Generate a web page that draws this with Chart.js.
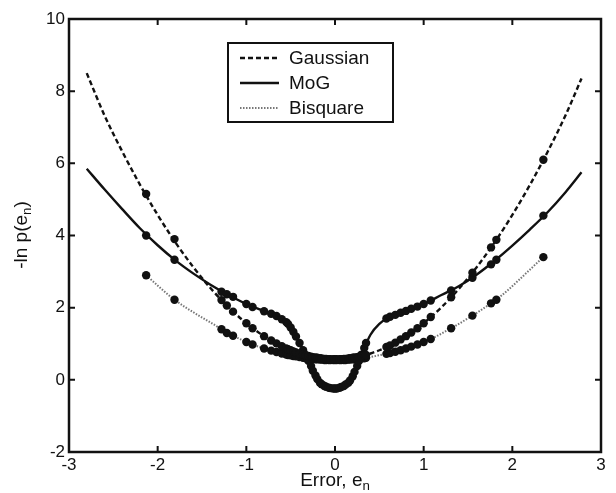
<!DOCTYPE html>
<html>
<head>
<meta charset="utf-8">
<script src="https://cdn.jsdelivr.net/npm/chart.js@4.4.1/dist/chart.umd.min.js"></script>
<style>
  html, body { margin: 0; padding: 0; background: #fff; }
  #wrap { width: 616px; height: 493px; }
</style>
</head>
<body>
<div id="wrap"><canvas id="c" width="616" height="493"></canvas></div>
<script>
// Negative log-likelihood of the error under three noise models.

// smooth curves (Gaussian + MoG)
const xCurve = [-2.8, -2.6, -2.4, -2.2, -2.0, -1.8, -1.6, -1.4, -1.2, -1.0, -0.8, -0.6, -0.5, -0.4, -0.3, -0.2, -0.1, 0,
  0.1, 0.2, 0.3, 0.4, 0.5, 0.6, 0.8, 1.0, 1.2, 1.4, 1.6, 1.8, 2.0, 2.2, 2.4, 2.6, 2.78];
const gaussCurve = [8.5, 7.33, 6.33, 5.41, 4.57, 3.81, 3.13, 2.53, 2.01, 1.57, 1.21, 0.93, 0.82, 0.73, 0.66, 0.61, 0.58, 0.57,
  0.58, 0.61, 0.66, 0.73, 0.82, 0.93, 1.21, 1.57, 2.01, 2.53, 3.13, 3.81, 4.57, 5.41, 6.33, 7.33, 8.35];
const mogCurve = [5.85, 5.28, 4.73, 4.2, 3.73, 3.31, 2.95, 2.63, 2.35, 2.1, 1.9, 1.68, 1.45, 1.02, 0.53, 0.02, -0.19, -0.24,
  -0.17, 0.1, 0.7, 1.25, 1.55, 1.72, 1.91, 2.1, 2.35, 2.6, 2.92, 3.3, 3.72, 4.17, 4.65, 5.2, 5.75];

// sample errors (the dots) and each model's value at them
const xSample = [-2.13, -1.81, -1.28, -1.22, -1.15, -1.0, -0.93, -0.8, -0.72, -0.66, -0.6, -0.55, -0.53, -0.5, -0.47, -0.44, -0.4,
  -0.36, -0.33, -0.3, -0.27, -0.25, -0.22, -0.2, -0.17, -0.15, -0.12, -0.1, -0.07, -0.05, -0.02, 0, 0.02, 0.05, 0.07, 0.1,
  0.12, 0.15, 0.17, 0.2, 0.22, 0.25, 0.27, 0.3, 0.33, 0.35,
  0.58, 0.62, 0.68, 0.74, 0.8, 0.86, 0.93, 1.0, 1.08, 1.31, 1.55, 1.76, 1.82, 2.35];
const gaussPts = [5.15, 3.9, 2.21, 2.06, 1.89, 1.57, 1.43, 1.21, 1.09, 1.01, 0.93, 0.87, 0.85, 0.82, 0.79, 0.76, 0.73,
  0.7, 0.68, 0.66, 0.64, 0.63, 0.62, 0.61, 0.6, 0.59, 0.58, 0.58, 0.57, 0.57, 0.57, 0.57, 0.57, 0.57, 0.57, 0.58,
  0.58, 0.59, 0.6, 0.61, 0.62, 0.63, 0.64, 0.66, 0.68, 0.69,
  0.91, 0.95, 1.03, 1.12, 1.21, 1.31, 1.43, 1.57, 1.74, 2.29, 2.97, 3.67, 3.88, 6.1];
const mogPts = [4.0, 3.33, 2.44, 2.37, 2.3, 2.1, 2.02, 1.9, 1.83, 1.77, 1.68, 1.6, 1.55, 1.45, 1.33, 1.2, 1.02,
  0.82, 0.68, 0.53, 0.38, 0.25, 0.12, 0.02, -0.08, -0.12, -0.17, -0.19, -0.22, -0.23, -0.24, -0.24, -0.24, -0.22, -0.2, -0.17,
  -0.13, -0.08, -0.02, 0.1, 0.22, 0.38, 0.52, 0.7, 0.88, 1.02,
  1.7, 1.75, 1.8, 1.86, 1.91, 1.97, 2.03, 2.1, 2.2, 2.48, 2.83, 3.2, 3.33, 4.55];
const bisqPts = [2.9, 2.22, 1.4, 1.3, 1.22, 1.05, 0.98, 0.87, 0.81, 0.77, 0.73, 0.7, 0.69, 0.68, 0.66, 0.65, 0.63,
  0.61, 0.6, 0.6, 0.59, 0.58, 0.57, 0.57, 0.56, 0.56, 0.55, 0.55, 0.55, 0.55, 0.55, 0.55, 0.55, 0.55, 0.55, 0.55,
  0.55, 0.56, 0.56, 0.57, 0.57, 0.58, 0.59, 0.6, 0.6, 0.61,
  0.72, 0.74, 0.78, 0.82, 0.87, 0.92, 0.98, 1.05, 1.13, 1.43, 1.78, 2.12, 2.22, 3.4];

const xTicks = [-3, -2, -1, 0, 1, 2, 3];
const yTicks = [-2, 0, 2, 4, 6, 8, 10];
const legendNames = ['Gaussian', 'MoG', 'Bisquare'];

const FONT = '"Liberation Sans", Arial, Helvetica, sans-serif';
const INK = '#111';

const pts = (xs, ys) => xs.map((x, i) => ({ x, y: ys[i] }));

// text with a subscript run: parts = [[text, isSub], ...]
function drawSubText(ctx, parts, size) {
  let w = 0;
  for (const [t, sub] of parts) {
    ctx.font = `${sub ? size * 0.7 : size}px ${FONT}`;
    w += ctx.measureText(t).width;
  }
  let x = -w / 2;
  ctx.textAlign = 'left';
  ctx.textBaseline = 'middle';
  for (const [t, sub] of parts) {
    ctx.font = `${sub ? size * 0.7 : size}px ${FONT}`;
    ctx.fillText(t, x, sub ? size * 0.3 : 0);
    x += ctx.measureText(t).width;
  }
}

const framePlugin = {
  id: 'frame',
  afterDraw(chart) {
    const { ctx, chartArea: a, scales } = chart;
    ctx.save();
    ctx.strokeStyle = INK;
    ctx.lineWidth = 2.5;
    ctx.strokeRect(a.left, a.top, a.right - a.left, a.bottom - a.top);
    ctx.lineWidth = 2;
    ctx.beginPath();
    const tl = 6;
    for (const v of xTicks.slice(1, -1)) {
      const px = scales.x.getPixelForValue(v);
      ctx.moveTo(px, a.bottom); ctx.lineTo(px, a.bottom - tl);
      ctx.moveTo(px, a.top); ctx.lineTo(px, a.top + tl);
    }
    for (const v of yTicks.slice(1, -1)) {
      const py = scales.y.getPixelForValue(v);
      ctx.moveTo(a.left, py); ctx.lineTo(a.left + tl, py);
      ctx.moveTo(a.right, py); ctx.lineTo(a.right - tl, py);
    }
    ctx.stroke();

    // axis titles
    ctx.fillStyle = INK;
    ctx.save();
    ctx.translate((a.left + a.right) / 2, 481);
    drawSubText(ctx, [['Error, e', false], ['n', true]], 19);
    ctx.restore();
    ctx.save();
    ctx.translate(22, 235);
    ctx.rotate(-Math.PI / 2);
    drawSubText(ctx, [['-ln p(e', false], ['n', true], [')', false]], 19);
    ctx.restore();

    // legend box
    const bx = 228, by = 43, bw = 165, bh = 79;
    ctx.fillStyle = '#fff';
    ctx.fillRect(bx, by, bw, bh);
    ctx.lineWidth = 2;
    ctx.strokeStyle = INK;
    ctx.strokeRect(bx, by, bw, bh);
    const styles = chart.data.datasets.slice(0, 3);
    legendNames.forEach((name, i) => {
      const ly = by + 15 + i * 25;
      const ds = styles[i];
      ctx.strokeStyle = ds.borderColor;
      ctx.lineWidth = ds.borderWidth;
      ctx.setLineDash(ds.borderDash || []);
      ctx.beginPath();
      ctx.moveTo(240, ly); ctx.lineTo(279, ly);
      ctx.stroke();
      ctx.setLineDash([]);
      ctx.fillStyle = INK;
      ctx.font = `19px ${FONT}`;
      ctx.textAlign = 'left';
      ctx.textBaseline = 'middle';
      ctx.fillText(name, 289, ly + 1);
    });
    ctx.restore();
  },
};

const dot = { showLine: false, pointRadius: 4.2, pointBackgroundColor: INK, pointBorderWidth: 0, order: 0 };

new Chart(document.getElementById('c'), {
  type: 'scatter',
  data: {
    datasets: [
      { label: 'Gaussian', data: pts(xCurve, gaussCurve), showLine: true, pointRadius: 0,
        borderColor: INK, borderWidth: 2.4, borderDash: [5, 3], cubicInterpolationMode: 'monotone', order: 2 },
      { label: 'MoG', data: pts(xCurve, mogCurve), showLine: true, pointRadius: 0,
        borderColor: INK, borderWidth: 2.4, cubicInterpolationMode: 'monotone', order: 2 },
      { label: 'Bisquare', data: pts(xSample, bisqPts), showLine: true, pointRadius: 0,
        borderColor: '#777', borderWidth: 2, borderDash: [1.5, 1.5], cubicInterpolationMode: 'monotone', order: 2 },
      { label: 'Gaussian samples', data: pts(xSample, gaussPts), ...dot },
      { label: 'MoG samples', data: pts(xSample, mogPts), ...dot },
      { label: 'Bisquare samples', data: pts(xSample, bisqPts), ...dot },
    ],
  },
  options: {
    responsive: false, animation: false,
    layout: { padding: { top: 19, right: 15, left: 0, bottom: 0 } },
    scales: {
      x: {
        type: 'linear', min: -3, max: 3,
        afterBuildTicks: s => { s.ticks = xTicks.map(v => ({ value: v })); },
        afterFit: s => { s.height = 41; },
        grid: { display: false, drawTicks: false }, border: { display: false },
        ticks: { color: INK, font: { family: FONT, size: 17 }, padding: 3, maxRotation: 0 },
      },
      y: {
        type: 'linear', min: -2, max: 10,
        afterBuildTicks: s => { s.ticks = yTicks.map(v => ({ value: v })); },
        afterFit: s => { s.width = 69; },
        grid: { display: false, drawTicks: false }, border: { display: false },
        ticks: { color: INK, font: { family: FONT, size: 17 }, padding: 4 },
      },
    },
    plugins: { legend: { display: false }, tooltip: { enabled: false } },
  },
  plugins: [framePlugin],
});
</script>
</body>
</html>
